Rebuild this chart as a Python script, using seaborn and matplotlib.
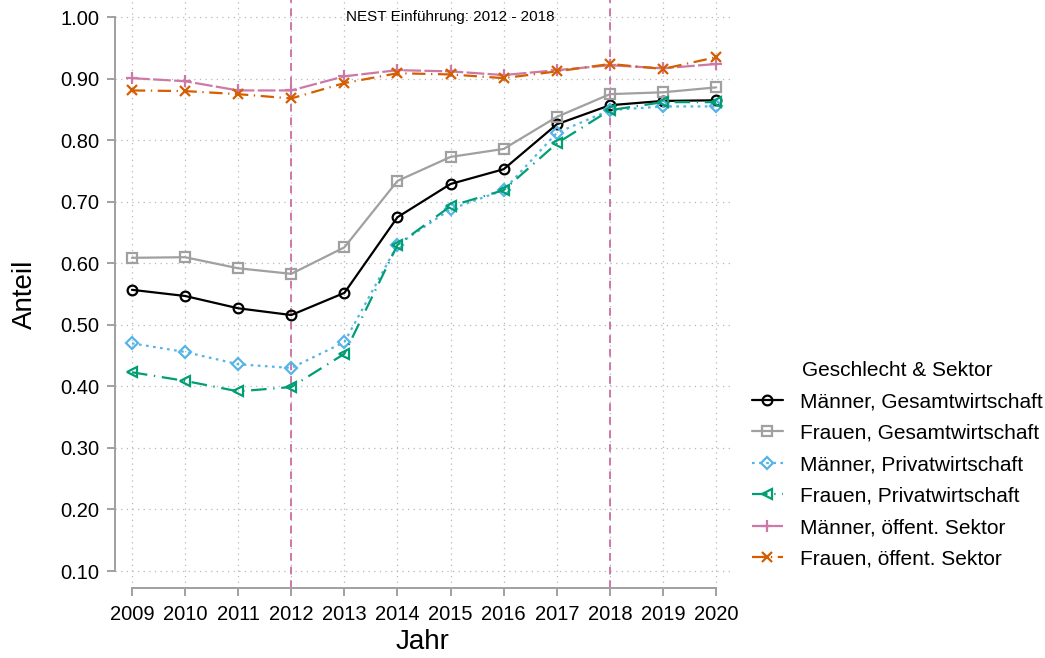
"""Anteil nach Geschlecht und Sektor, 2009-2020 (NEST Einführung markiert)."""
import matplotlib
matplotlib.use("Agg")
import matplotlib.pyplot as plt
import pandas as pd
import seaborn as sns

# Daten
years = list(range(2009, 2021))
maenner_gesamt = [0.557, 0.547, 0.527, 0.516, 0.552, 0.675, 0.729, 0.753, 0.826, 0.857, 0.864, 0.865]
frauen_gesamt = [0.609, 0.610, 0.592, 0.583, 0.626, 0.734, 0.773, 0.786, 0.838, 0.875, 0.878, 0.886]
maenner_privat = [0.470, 0.456, 0.436, 0.430, 0.472, 0.630, 0.688, 0.719, 0.812, 0.849, 0.855, 0.855]
frauen_privat = [0.423, 0.409, 0.392, 0.399, 0.453, 0.630, 0.693, 0.719, 0.795, 0.849, 0.862, 0.862]
maenner_oeff = [0.901, 0.896, 0.881, 0.881, 0.904, 0.914, 0.912, 0.906, 0.914, 0.922, 0.917, 0.924]
frauen_oeff = [0.881, 0.880, 0.875, 0.868, 0.893, 0.909, 0.907, 0.901, 0.912, 0.924, 0.916, 0.935]

labels = [
    "Männer, Gesamtwirtschaft",
    "Frauen, Gesamtwirtschaft",
    "Männer, Privatwirtschaft",
    "Frauen, Privatwirtschaft",
    "Männer, öffent. Sektor",
    "Frauen, öffent. Sektor",
]
series = [maenner_gesamt, frauen_gesamt, maenner_privat, frauen_privat, maenner_oeff, frauen_oeff]
y_ticks = [0.1, 0.2, 0.3, 0.4, 0.5, 0.6, 0.7, 0.8, 0.9, 1.0]
nest_years = [2012, 2018]

# Stil je Serie
colors = ["#000000", "#a0a0a0", "#56b4e9", "#009e73", "#cc79a7", "#d55e00"]
markers = ["o", "s", "D", "<", "+", "x"]
linestyles = [
    "-",
    "-",
    (0, (1.2, 2.0)),
    (0, (7, 3, 0.6, 3)),
    (0, (8, 1.5)),
    (0, (6, 2.5, 0.6, 2.5)),
]
msizes = [7, 7, 6, 7, 9, 7]

sns.set_theme(style="white")
plt.rcParams["font.family"] = ["Liberation Sans", "DejaVu Sans"]
plt.rcParams["text.color"] = "black"
plt.rcParams["axes.labelcolor"] = "black"

fig = plt.figure(figsize=(10.45, 6.58), dpi=100)
ax = fig.add_axes([0.110, 0.106, 0.589, 0.894])

for vals, lab, col, mk, ls, ms in zip(series, labels, colors, markers, linestyles, msizes):
    df = pd.DataFrame({"Jahr": years, "Anteil": vals})
    sns.lineplot(
        data=df, x="Jahr", y="Anteil", ax=ax, color=col, marker=mk,
        linestyle=ls, linewidth=1.6, markersize=ms, markerfacecolor="none",
        markeredgecolor=col, markeredgewidth=1.6, label=lab,
    )

for yr in nest_years:
    ax.axvline(yr, color="#cc79a7", linestyle=(0, (4, 3)), linewidth=1.4, zorder=1)

ax.text(2015, 1.0, "NEST Einführung: 2012 - 2018", ha="center", va="center",
        fontsize=11, color="black")

ax.set_xlim(2008.68, 2020.27)
ax.set_ylim(0.072, 1.028)
ax.set_xticks(years)
ax.set_yticks(y_ticks)
ax.set_yticklabels([f"{v:.2f}" for v in y_ticks])
ax.grid(True, linestyle=(0, (1, 3.5)), color="#b8b8b8", linewidth=0.9)

for side in ["top", "right"]:
    ax.spines[side].set_visible(False)
ax.spines["left"].set_bounds(0.1, 1.0)
ax.spines["bottom"].set_bounds(2009, 2020)
for side in ["left", "bottom"]:
    ax.spines[side].set_color("#a0a0a0")
    ax.spines[side].set_linewidth(1.4)
ax.tick_params(axis="both", direction="out", length=6, width=1.4, color="#a0a0a0",
               labelsize=14.5, labelcolor="black", left=True, bottom=True)
ax.tick_params(axis="x", pad=6)
ax.tick_params(axis="y", pad=5)

ax.set_xlabel("Jahr", fontsize=20, labelpad=4)
ax.set_ylabel("Anteil", fontsize=20, labelpad=16)

handles, labs = ax.get_legend_handles_labels()
ax.legend(handles, labs, title="Geschlecht & Sektor", loc="center left",
          bbox_to_anchor=(0.710, 0.294), bbox_transform=fig.transFigure,
          frameon=False, fontsize=15, title_fontsize=15, borderpad=0,
          labelspacing=0.6, handlelength=1.45, handletextpad=0.85, numpoints=1)

fig.savefig("out.png", dpi=100)
